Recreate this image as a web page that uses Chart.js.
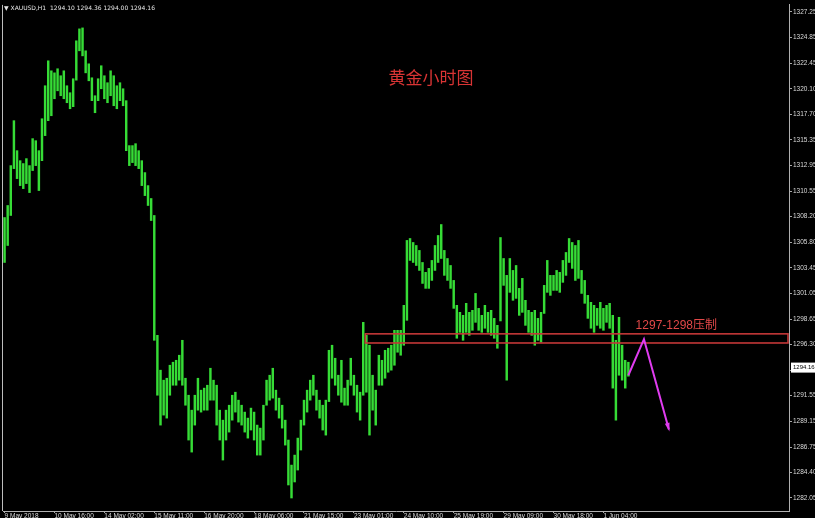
<!DOCTYPE html>
<html>
<head>
<meta charset="utf-8">
<script src="https://cdn.jsdelivr.net/npm/chart.js@4.4.0/dist/chart.umd.min.js"></script>
<style>
  html, body { margin: 0; padding: 0; background: #000; }
  #c { display: block; }
</style>
</head>
<body>
<canvas id="c" width="815" height="518"></canvas>
<script>
// 2-hour bars (high / low)
const highs = [
  1308.12, 1309.24, 1312.95, 1317.13, 1314.34, 1313.41, 1313.14, 1313.60, 1312.95, 1315.46,
  1315.27, 1314.34, 1317.31, 1320.38, 1322.70, 1321.77, 1321.58, 1321.96, 1321.31, 1321.77,
  1320.38, 1319.73, 1321.03, 1324.56, 1325.67, 1325.76, 1323.63, 1322.42, 1321.12, 1319.45,
  1321.03, 1322.24, 1321.31, 1320.66, 1321.77, 1321.31, 1320.38, 1320.66, 1320.10, 1318.99,
  1314.81, 1314.81, 1314.99, 1314.34, 1313.41, 1312.30, 1311.09, 1309.89, 1308.31, 1297.16,
  1293.92, 1292.99, 1293.17, 1294.38, 1294.66, 1294.84, 1295.31, 1296.70, 1293.17, 1291.59,
  1290.20, 1291.59, 1293.17, 1292.06, 1292.25, 1292.52, 1294.10, 1292.99, 1292.52, 1290.20,
  1289.27, 1290.20, 1290.66, 1291.59, 1291.87, 1291.13, 1290.66, 1290.02, 1289.46, 1290.39,
  1290.02, 1288.81, 1288.53, 1290.66, 1292.99, 1293.45, 1294.10, 1292.06, 1291.32, 1290.66,
  1289.27, 1287.42, 1285.09, 1286.02, 1287.60, 1289.27, 1291.13, 1292.06, 1292.99, 1293.45,
  1292.06, 1291.13, 1290.66, 1291.13, 1295.77, 1296.24, 1295.03, 1293.45, 1294.84, 1292.25,
  1292.99, 1295.03, 1293.45, 1292.52, 1291.87, 1298.37, 1297.16, 1296.24, 1293.45, 1292.06,
  1295.31, 1294.84, 1295.77, 1295.96, 1296.24, 1297.63, 1297.63, 1297.63, 1299.95, 1305.99,
  1306.17, 1305.80, 1305.52, 1305.06, 1303.94, 1303.02, 1303.39, 1304.13, 1305.52, 1306.45,
  1307.47, 1305.06, 1304.31, 1303.66, 1302.27, 1299.95, 1299.30, 1299.02, 1300.14, 1299.30,
  1299.49, 1301.06, 1299.67, 1299.02, 1299.95, 1299.30, 1299.49, 1298.74, 1298.09, 1306.26,
  1304.31, 1302.74, 1304.31, 1303.20, 1303.66, 1301.53, 1302.46, 1300.42, 1299.49, 1299.30,
  1299.49, 1298.74, 1299.30, 1301.81, 1304.13, 1302.74, 1302.74, 1303.20, 1303.02, 1304.13,
  1304.87, 1306.17, 1305.80, 1305.52, 1305.99, 1303.20, 1302.27, 1300.88, 1300.23, 1299.95,
  1299.67, 1300.23, 1299.67, 1299.95, 1300.14, 1299.02, 1296.70, 1298.84, 1296.24, 1294.84,
  1294.66
];
const lows = [
  1303.94, 1305.52, 1308.31, 1312.67, 1311.74, 1311.09, 1310.81, 1311.28, 1310.44, 1312.49,
  1312.95, 1310.63, 1313.41, 1315.74, 1317.13, 1317.59, 1319.17, 1319.91, 1319.45, 1319.17,
  1318.80, 1318.24, 1318.43, 1320.90, 1323.63, 1323.16, 1321.58, 1320.84, 1318.99, 1317.87,
  1318.99, 1320.10, 1319.17, 1318.80, 1319.45, 1318.52, 1318.24, 1318.99, 1318.52, 1314.34,
  1312.95, 1313.23, 1312.95, 1312.67, 1311.09, 1310.16, 1309.24, 1307.84, 1296.70, 1291.59,
  1288.81, 1289.74, 1289.46, 1291.59, 1292.52, 1292.52, 1292.99, 1292.52, 1290.66, 1287.42,
  1286.30, 1288.81, 1290.20, 1290.02, 1290.20, 1290.20, 1291.13, 1291.13, 1288.81, 1287.42,
  1285.56, 1287.42, 1288.16, 1289.27, 1290.02, 1289.09, 1288.81, 1288.16, 1287.60, 1288.35,
  1287.42, 1286.02, 1286.02, 1287.42, 1290.66, 1291.13, 1291.32, 1290.20, 1289.46, 1288.53,
  1286.95, 1283.24, 1282.03, 1283.52, 1284.63, 1286.49, 1288.81, 1290.02, 1291.13, 1291.59,
  1290.20, 1289.46, 1288.35, 1287.88, 1291.00, 1293.17, 1292.52, 1291.59, 1290.94, 1290.66,
  1290.66, 1292.52, 1291.59, 1290.02, 1289.27, 1291.59, 1291.87, 1287.88, 1290.20, 1288.81,
  1292.52, 1292.52, 1293.17, 1293.73, 1293.92, 1294.38, 1295.59, 1295.31, 1296.24, 1298.56,
  1304.13, 1303.94, 1303.66, 1303.20, 1301.99, 1301.53, 1301.53, 1302.27, 1303.20, 1303.94,
  1304.31, 1302.74, 1302.27, 1301.53, 1299.67, 1296.89, 1297.44, 1296.70, 1297.44, 1297.16,
  1297.63, 1298.37, 1297.63, 1297.44, 1297.82, 1297.44, 1297.16, 1296.89, 1295.96, 1298.50,
  1301.81, 1292.99, 1301.16, 1300.42, 1300.60, 1299.02, 1299.30, 1298.09, 1297.44, 1297.16,
  1296.24, 1296.70, 1296.52, 1299.20, 1301.16, 1300.88, 1301.34, 1301.34, 1301.16, 1302.09,
  1302.74, 1303.94, 1303.39, 1302.27, 1302.46, 1301.06, 1300.14, 1298.74, 1297.82, 1297.44,
  1298.09, 1297.82, 1297.63, 1298.37, 1297.82, 1292.25, 1289.27, 1293.45, 1292.99, 1292.25,
  1293.36
];

const timeLabels = ['9 May 2018', '10 May 16:00', '14 May 02:00', '15 May 11:00', '16 May 20:00',
  '18 May 06:00', '21 May 15:00', '23 May 01:00', '24 May 10:00', '25 May 19:00',
  '29 May 09:00', '30 May 18:00', '1 Jun 04:00'];
const labelStep = 16;     // bars between time labels
const slotCount = 252;    // bars that fit on the axis (incl. right shift)

const priceTicks = [1327.25, 1324.85, 1322.45, 1320.10, 1317.70, 1315.35, 1312.95, 1310.55,
  1308.20, 1305.80, 1303.45, 1301.05, 1298.65, 1296.30, 1293.90, 1291.55, 1289.15, 1286.75,
  1284.40, 1282.05];

const lastPrice = 1294.16;
const quoteText = '\u25BC XAUUSD,H1  1294.10 1294.36 1294.00 1294.16';
const chartTitle = '黄金小时图';
const zoneLabel = '1297-1298压制';
const zoneTop = 1297.3;
const zoneBottom = 1296.45;
const zoneStartBar = 116;
const zoneLabelBar = 202;
const zoneLabelPrice = 1298.1;
const arrowBars = [200, 205, 213];
const arrowPrices = [1293.45, 1296.8, 1288.4];

const slotLabels = [];
for (let i = 0; i < slotCount; i++) {
  slotLabels.push(i % labelStep === 0 && timeLabels[i / labelStep] ? timeLabels[i / labelStep] : '');
}

const overlay = {
  id: 'overlay',
  afterDatasetsDraw(chart) {
    const ctx = chart.ctx;
    const x = chart.scales.x, y = chart.scales.y;
    const area = chart.chartArea;
    ctx.save();

    // resistance zone
    const zx = x.getPixelForValue(zoneStartBar) - 1;
    const zt = y.getPixelForValue(zoneTop);
    const zb = y.getPixelForValue(zoneBottom);
    ctx.strokeStyle = '#c43838';
    ctx.lineWidth = 1.6;
    ctx.strokeRect(zx, zt, area.right - zx - 1, zb - zt);

    ctx.fillStyle = '#e24848';
    ctx.font = '12px "Liberation Sans", "Noto Sans CJK SC", sans-serif';
    ctx.textBaseline = 'middle';
    ctx.textAlign = 'left';
    ctx.fillText(zoneLabel, x.getPixelForValue(zoneLabelBar) + 1, y.getPixelForValue(zoneLabelPrice));

    // magenta arrow
    const pts = arrowBars.map((b, i) => [x.getPixelForValue(b), y.getPixelForValue(arrowPrices[i])]);
    ctx.strokeStyle = '#e03cf0';
    ctx.fillStyle = '#e03cf0';
    ctx.lineWidth = 2;
    ctx.beginPath();
    ctx.moveTo(pts[0][0], pts[0][1]);
    for (let i = 1; i < pts.length; i++) ctx.lineTo(pts[i][0], pts[i][1]);
    ctx.stroke();
    const [ax, ay] = pts[pts.length - 1];
    const [bx, by] = pts[pts.length - 2];
    const ang = Math.atan2(ay - by, ax - bx);
    ctx.beginPath();
    ctx.moveTo(ax + Math.cos(ang) * 2, ay + Math.sin(ang) * 2);
    ctx.lineTo(ax - Math.cos(ang - 0.35) * 7, ay - Math.sin(ang - 0.35) * 7);
    ctx.lineTo(ax - Math.cos(ang + 0.35) * 7, ay - Math.sin(ang + 0.35) * 7);
    ctx.closePath();
    ctx.fill();

    // title
    ctx.fillStyle = '#d93434';
    ctx.font = '17px "Noto Sans CJK SC", sans-serif';
    ctx.textAlign = 'center';
    ctx.fillText(chartTitle, 431, 78);

    // symbol line
    ctx.fillStyle = '#e6e6e6';
    ctx.font = '6px "DejaVu Sans", sans-serif';
    ctx.textAlign = 'left';
    ctx.fillText(quoteText, 4, 8);

    // left frame line
    ctx.strokeStyle = '#bdbdbd';
    ctx.lineWidth = 1;
    ctx.beginPath();
    ctx.moveTo(area.left - 0.5, area.top);
    ctx.lineTo(area.left - 0.5, area.bottom);
    ctx.stroke();
    ctx.restore();
  },
  afterDraw(chart) {
    const ctx = chart.ctx;
    const y = chart.scales.y;
    const area = chart.chartArea;
    const py = y.getPixelForValue(lastPrice);
    ctx.save();
    ctx.fillStyle = '#ffffff';
    ctx.fillRect(area.right + 2, py - 5, chart.width - area.right - 2, 10);
    ctx.fillStyle = '#000000';
    ctx.font = '6px "Liberation Sans", sans-serif';
    ctx.textBaseline = 'middle';
    ctx.textAlign = 'left';
    ctx.fillText(lastPrice.toFixed(2), area.right + 4, py);
    ctx.restore();
  }
};

new Chart(document.getElementById('c'), {
  type: 'bar',
  data: {
    labels: slotLabels,
    datasets: [{
      data: highs.map((h, i) => [lows[i], h]),
      backgroundColor: '#36dc36',
      barThickness: 1.8,
      borderSkipped: false
    }]
  },
  options: {
    responsive: false,
    animation: false,
    layout: { padding: { top: 4, left: 3, right: 0, bottom: 0 } },
    plugins: { legend: { display: false }, tooltip: { enabled: false } },
    scales: {
      x: {
        offset: true,
        ticks: {
          autoSkip: false, maxRotation: 0, minRotation: 0, align: 'start',
          color: '#dadada', padding: -1,
          font: { size: 6.5, family: '"Liberation Sans", sans-serif' }
        },
        grid: {
          offset: false, drawOnChartArea: false, tickLength: 2,
          color: c => slotLabels[c.index] ? '#a8a8a8' : 'rgba(0,0,0,0)'
        },
        border: { color: '#b0b0b0' },
        afterFit: s => { s.height = 7; }
      },
      y: {
        position: 'right',
        min: 1280.82,
        max: 1327.9,
        afterBuildTicks: s => { s.ticks = priceTicks.map(v => ({ value: v })); },
        afterFit: s => { s.width = 26; },
        ticks: {
          color: '#dadada', padding: 1,
          font: { size: 6.5, family: '"Liberation Sans", sans-serif' },
          callback: v => v.toFixed(2)
        },
        grid: { drawOnChartArea: false, tickLength: 3, color: '#a8a8a8' },
        border: { color: '#b0b0b0' }
      }
    }
  },
  plugins: [overlay]
});
</script>
</body>
</html>
